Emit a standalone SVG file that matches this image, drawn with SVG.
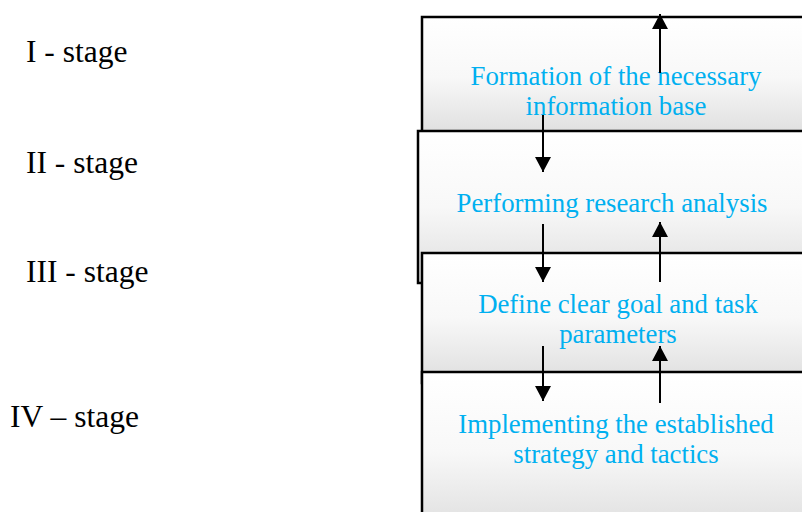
<svg xmlns="http://www.w3.org/2000/svg" width="802" height="512" viewBox="0 0 802 512">
<defs>
<linearGradient id="g" x1="0" y1="0" x2="0" y2="1">
<stop offset="0" stop-color="#ffffff"/>
<stop offset="0.5" stop-color="#f8f8f8"/>
<stop offset="1" stop-color="#dedede"/>
</linearGradient>
<marker id="ah" viewBox="0 0 15 16" markerWidth="15" markerHeight="16" refX="15" refY="8" orient="auto" markerUnits="userSpaceOnUse">
<path d="M0,0 L15,8 L0,16 z" fill="#000"/>
</marker>
<style>
.box{fill:url(#g);stroke:#000;stroke-width:2.5}
.t{font-family:"Liberation Serif","Times New Roman",serif;font-size:26.8px;fill:#00b0f0;text-anchor:middle}
.s{font-family:"Liberation Serif","Times New Roman",serif;font-size:31.5px;fill:#000}
.c{stroke:#000;stroke-width:2;fill:none;marker-end:url(#ah)}
</style>
</defs>
<rect width="802" height="512" fill="#fff"/>
<g id="labels">
<text class="s" x="26" y="62">I - stage</text>
<text class="s" x="26" y="173">II - stage</text>
<text class="s" x="26" y="282">III - stage</text>
<text class="s" x="10" y="427">IV – stage</text>
</g>
<g id="node1">
<rect class="box" x="422" y="17" width="400" height="120"/>
<text class="t" x="616" y="85">Formation of the necessary</text>
<text class="t" x="616" y="115">information base</text>
</g>
<g id="node2">
<rect class="box" x="418" y="131" width="404" height="152"/>
<text class="t" x="612" y="212">Performing research analysis</text>
</g>
<g id="node3">
<rect class="box" x="422" y="253" width="400" height="130"/>
<text class="t" x="618" y="313">Define clear goal and task</text>
<text class="t" x="618" y="343">parameters</text>
</g>
<g id="node4">
<rect class="box" x="422" y="372" width="400" height="160"/>
<text class="t" x="616" y="433">Implementing the established</text>
<text class="t" x="616" y="463">strategy and tactics</text>
</g>
<g id="connectors">
<line class="c" x1="660" y1="73" x2="660" y2="14"/>
<line class="c" x1="543" y1="115" x2="543" y2="172"/>
<line class="c" x1="543" y1="224" x2="543" y2="282"/>
<line class="c" x1="660" y1="282" x2="660" y2="222"/>
<line class="c" x1="543" y1="346" x2="543" y2="401"/>
<line class="c" x1="660" y1="403" x2="660" y2="346"/>
</g>
</svg>
